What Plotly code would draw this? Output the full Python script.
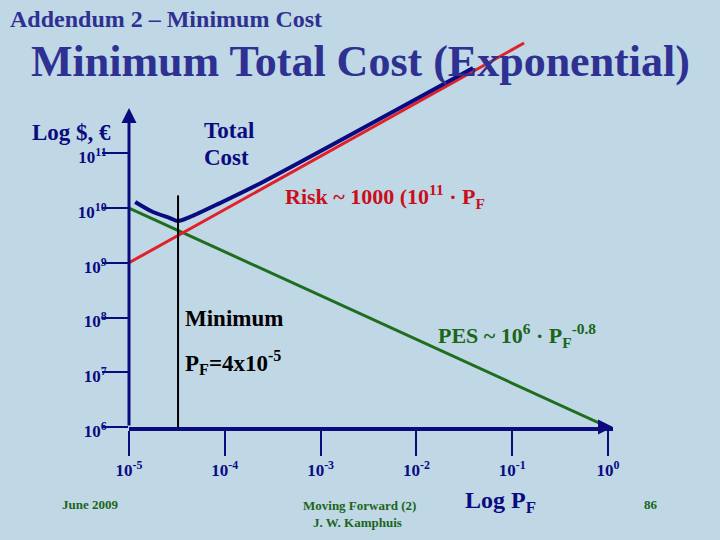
import plotly.graph_objects as go

# ---------------- data ----------------
x_tick_vals = [1e-5, 1e-4, 1e-3, 1e-2, 1e-1, 1e0]
x_tick_text = ["10<sup>-5</sup>", "10<sup>-4</sup>", "10<sup>-3</sup>",
               "10<sup>-2</sup>", "10<sup>-1</sup>", "10<sup>0</sup>"]
y_tick_vals = [1e6, 1e7, 1e8, 1e9, 1e10, 1e11]
y_tick_text = ["10<sup>6</sup>", "10<sup>7</sup>", "10<sup>8</sup>",
               "10<sup>9</sup>", "10<sup>10</sup>", "10<sup>11</sup>"]

pes_pf = [1e-5, 1.0]
pes_cost = [1e10, 1e6]

risk_pf = [1e-5, 0.133]
risk_cost = [1e9, 1.03e13]

total_pf = [1.16e-5, 1.78e-5, 2.68e-5, 3.24e-5, 4.34e-5, 8.9e-5, 2.5e-4, 3.9e-2]
total_cost = [1.29e10, 8.45e9, 6.56e9, 5.8e9, 6.86e9, 1.23e10, 2.99e10, 3.6e12]

min_pf = [3.25e-5, 3.25e-5]
min_cost = [1e6, 1.7e10]

# ---------------- style ----------------
BG = "#C0D7E6"
NAVY = "#0B0B80"
TITLE = "#2E3192"
RED_LINE = "#E3202A"
RED_TXT = "#C8101C"
GREEN_LINE = "#1E6E1E"
GREEN_TXT = "#1A661A"
SERIF = "Liberation Serif, Times New Roman, serif"

W, H = 720, 540
L, R, T, B = 129, 107, 30, 113
PW, PH = W - L - R, H - T - B


def px(xp):
    return (xp - L) / PW


def py(yp):
    return (H - B - yp) / PH


fig = go.Figure()
fig.add_trace(go.Scatter(x=pes_pf, y=pes_cost, mode="lines",
                         line=dict(color=GREEN_LINE, width=3)))
fig.add_trace(go.Scatter(x=risk_pf, y=risk_cost, mode="lines",
                         line=dict(color=RED_LINE, width=3)))
fig.add_trace(go.Scatter(x=total_pf, y=total_cost, mode="lines",
                         line=dict(color=NAVY, width=4, shape="spline", smoothing=0.8)))
fig.add_trace(go.Scatter(x=min_pf, y=min_cost, mode="lines",
                         line=dict(color="black", width=2)))

tickfont = dict(family=SERIF, size=17, color=NAVY, weight="bold")
fig.update_xaxes(type="log", range=[-5, 0.0522], tickvals=x_tick_vals, ticktext=x_tick_text,
                 ticks="outside", ticklen=25, tickwidth=1.5, tickcolor=NAVY,
                 showline=True, linecolor=NAVY, linewidth=3.5,
                 showgrid=False, zeroline=False, tickfont=tickfont)
fig.update_yaxes(type="log", range=[6, 6 + PH / 54.75], tickvals=y_tick_vals, ticktext=y_tick_text,
                 ticks="outside", ticklen=26, tickwidth=1.5, tickcolor=NAVY,
                 showline=False, showgrid=False, zeroline=False, tickfont=tickfont,
                 ticklabelshift=4, ticklabelstandoff=-8)

ann = []
# axis arrows
ann.append(dict(x=1.0, y=0, xref="paper", yref="paper", ax=-14, ay=0, text="",
                showarrow=True, arrowhead=2, arrowsize=1, arrowwidth=3, arrowcolor=NAVY, standoff=0))
ann.append(dict(x=0, y=py(108), xref="paper", yref="paper", ax=0, ay=427 - 108, text="",
                showarrow=True, arrowhead=2, arrowsize=1, arrowwidth=3, arrowcolor=NAVY, standoff=0))


def txt(text, x, y, size, color, xanchor="left"):
    ann.append(dict(text=text, x=px(x), y=py(y), xref="paper", yref="paper",
                    xanchor=xanchor, yanchor="middle", showarrow=False,
                    font=dict(family=SERIF, size=size, color=color, weight="bold")))


txt("Addendum 2 – Minimum Cost", 8, 19, 24, TITLE)
txt("Minimum Total Cost (Exponential)", 360, 62, 44, TITLE, "center")
txt("Log $, €", 30, 132, 23, NAVY)
txt("Total", 202, 130, 23, NAVY)
txt("Cost", 202, 157, 23, NAVY)
txt("Risk ~ 1000 (10<sup>11</sup> · P<sub>F</sub>", 283, 197, 22, RED_TXT)
txt("Minimum", 183, 318, 23, "black")
txt("P<sub>F</sub>=4x10<sup>-5</sup>", 183, 362, 23, "black")
txt("PES ~ 10<sup>6</sup> · P<sub>F</sub><sup>-0.8</sup>", 436, 335, 22, GREEN_TXT)
txt("June 2009", 90, 504, 13, GREEN_TXT, "center")
txt("Moving Forward (2)", 359, 505, 13, GREEN_TXT, "center")
txt("J. W. Kamphuis", 357, 522, 13, GREEN_TXT, "center")
txt("Log P<sub>F</sub>", 463, 502, 24, NAVY)
txt("86", 651, 504, 13, GREEN_TXT, "center")

fig.update_layout(width=W, height=H, autosize=False,
                  margin=dict(l=L, r=R, t=T, b=B, pad=0),
                  paper_bgcolor=BG, plot_bgcolor=BG,
                  showlegend=False, hovermode=False,
                  annotations=ann)

fig.write_html("out.html", config={"displayModeBar": False},
               post_script="document.body.style.margin='0';document.body.style.background='" + BG + "';")
